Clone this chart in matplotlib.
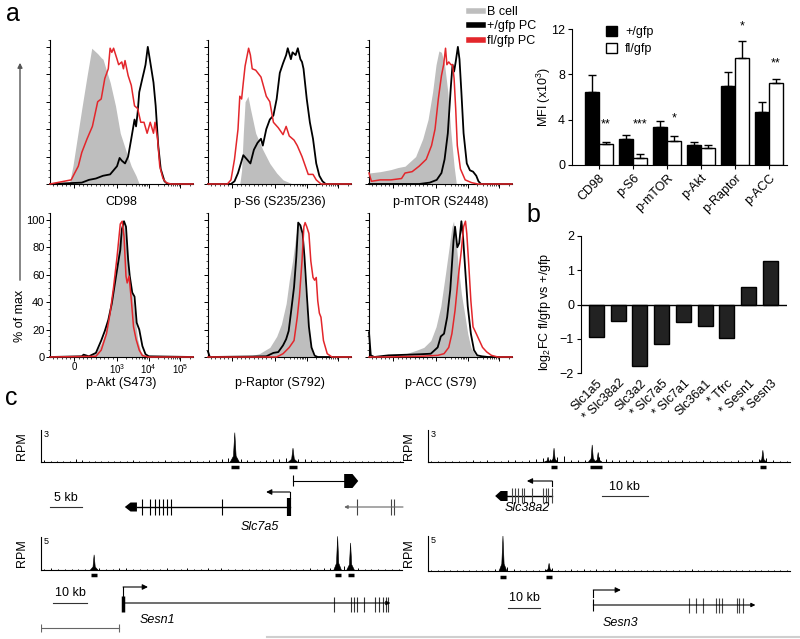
import matplotlib.pyplot as plt
import numpy as np
from matplotlib.lines import Line2D
from matplotlib.patches import Patch, FancyArrowPatch
from matplotlib.ticker import FixedLocator, MultipleLocator, NullFormatter

plt.rcParams['font.family'] = ['Liberation Sans', 'DejaVu Sans']
plt.rcParams['mathtext.fontset'] = 'custom'
plt.rcParams['mathtext.rm'] = 'Liberation Sans'
plt.rcParams['mathtext.it'] = 'Liberation Sans:italic'
plt.rcParams['font.size'] = 8.5

# ---------------- panel a: flow histograms (intensity, % of max) ----------------
cd98_b_x = [-575, -120, -35, 50, 175, 300, 410, 550, 635, 675, 845, 970, 1290, 2030, 2860, 4040, 5100, 250000]
cd98_b_y = [0, 0, 13, 30, 55, 79, 99, 95, 92, 91, 74, 57, 37, 23, 13, 6, 0, 0]
cd98_wt_x = [-575, 175, 343, 508, 675, 843, 1020, 1229, 1440, 1820, 2280, 2860, 3620, 4040, 4535, 5100, 6394,
             7190, 8030, 9460, 11300, 14300, 16740, 20160, 24100, 31700, 40000, 250000]
cd98_wt_y = [0, 1, 3, 4, 6, 7, 13, 19, 17, 15, 20, 33, 47, 42, 52, 67, 77, 82, 87, 100, 89, 74, 57, 28, 11, 2, 0, 0]
cd98_fl_x = [-575, -75, 8, 93, 175, 300, 425, 550, 633, 718, 800, 843, 883, 925, 1020, 1147, 1440, 1618, 1820,
             2280, 2860, 3620, 4535, 5690, 7190, 9015, 11300, 14300, 15950, 19200, 22500, 28400, 35640, 50260, 250000]
cd98_fl_y = [0, 3, 8, 13, 23, 33, 42, 60, 62, 77, 84, 99, 96, 99, 91, 87, 89, 84, 90, 79, 72, 57, 55, 45, 45,
             37, 45, 37, 45, 33, 13, 4, 1, 0, 0]

ps6_b_x = [-575, 175, 218, 258, 300, 368, 425, 550, 718, 883, 1147, 1820, 3620, 250000]
ps6_b_y = [0, 0, 10, 37, 60, 64, 55, 37, 25, 15, 8, 3, 0, 0]
ps6_wt_x = [-575, -33, 50, 133, 258, 343, 425, 508, 593, 675, 718, 800, 883, 968, 1147, 1440, 1820, 2280, 2560,
            3217, 3620, 4535, 5310, 6394, 7190, 8030, 10140, 12710, 15950, 20160, 25280, 31700, 40000, 250000]
ps6_wt_y = [0, 0, 2, 8, 21, 18, 15, 25, 30, 33, 28, 40, 47, 50, 62, 81, 88, 94, 99, 91, 96, 94, 99, 91, 89, 84,
            62, 45, 33, 15, 6, 2, 0, 0]
ps6_fl_x = [-575, -118, -33, 50, 133, 175, 218, 258, 300, 383, 425, 468, 550, 675, 800, 883, 968, 1290, 1820,
            2280, 2860, 4040, 5100, 7190, 11300, 15950, 20160, 28400, 250000]
ps6_fl_y = [0, 0, 3, 18, 40, 64, 62, 74, 86, 99, 94, 84, 83, 78, 64, 60, 45, 41, 36, 42, 35, 32, 28, 20, 7, 7,
            3, 0, 0]

pmtor_b_x = [-575, -308, -58, 108, 275, 525, 693, 818, 925, 1020, 1255, 1510, 1895, 2395, 3003, 3770, 4440, 250000]
pmtor_b_y = [8, 9, 10.5, 12, 13, 20, 33, 47, 67, 87, 97, 96, 87, 67, 37, 13, 0, 0]
pmtor_wt_x = [-575, 608, 858, 1071, 1510, 1895, 2395, 3003, 3370, 3770, 4234, 4960, 5573, 6394, 7500, 9460,
              11870, 14880, 18800, 22030, 26400, 250000]
pmtor_wt_y = [0, 0, 1, 3, 8, 18, 37, 72, 87, 82, 89, 100, 91, 67, 37, 15, 10, 9, 6, 2, 0, 0]
pmtor_fl_x = [-575, -518, -308, -58, 193, 275, 443, 608, 775, 900, 983, 1204, 1510, 1770, 2030, 2235, 2560,
              3003, 3370, 3770, 4234, 4760, 5970, 8417, 13330, 21020, 250000]
pmtor_fl_y = [8, 2, 3, 3, 4, 8, 9, 13, 18, 28, 40, 62, 79, 87, 99, 87, 89, 87, 87, 77, 55, 28, 11, 3, 1, 0, 0]

pakt_b_x = [-575, 343, 508, 633, 718, 800, 883, 968, 1147, 1440, 1618, 1820, 2280, 2860, 3620, 4535, 5690, 8030, 250000]
pakt_b_y = [0, 0, 3, 10, 17, 30, 42, 59, 83, 97, 99, 90, 66, 51, 32, 13, 4, 0, 0]
pakt_wt_x = [-575, 175, 218, 343, 508, 633, 718, 800, 883, 968, 1147, 1290, 1440, 1690, 1950, 2280, 2560,
             3070, 3620, 4234, 5100, 6394, 8030, 10140, 250000]
pakt_wt_y = [0, 0.5, 1.7, 0.5, 3, 12, 19, 27, 39, 56, 71, 78, 93, 99, 95, 71, 59, 47, 44, 25, 20, 8, 2, 0.5, 0]
pakt_fl_x = [-575, 508, 633, 758, 843, 925, 1020, 1290, 1480, 1690, 1950, 2130, 2444, 2860, 3370, 4040, 5100,
             6394, 10140, 250000]
pakt_fl_y = [0, 0.5, 5, 17, 32, 51, 73, 97, 99, 88, 59, 54, 59, 42, 22, 13, 5, 1, 0, 0]

praptor_b_x = [-575, 383, 633, 883, 1147, 1618, 2280, 2860, 3620, 4535, 5460, 6394, 7500, 9015, 10860,
               12710, 15950, 20160, 250000]
praptor_b_y = [0, 0.5, 2.4, 7, 15, 24, 39, 56, 70, 87, 98, 95, 78, 48, 24, 10, 1, 0, 0]
praptor_wt_x = [-575, -533, 800, 968, 1290, 1820, 2280, 2740, 3217, 4040, 4760, 5460, 6394, 7500, 8600,
                10140, 11870, 14300, 17930, 22500, 250000]
praptor_wt_y = [4, 0, 0.5, 3, 3.6, 8.5, 13, 19, 32, 51, 73, 98, 96, 90, 73, 46, 22, 7, 1, 0, 0]
praptor_fl_x = [-575, 1147, 1820, 2860, 4040, 5100, 5970, 7190, 8240, 9015, 10140, 11870, 13620, 15950, 17930,
                20160, 22500, 25280, 28400, 33990, 44700, 63000, 250000]
praptor_fl_y = [0, 0, 2.4, 7, 12, 29, 44, 70, 95, 98, 95, 90, 70, 58, 56, 58, 41, 32, 29, 12, 2.4, 0, 0]

pacc_b_x = [-575, -33, 300, 550, 718, 883, 1020, 1440, 2030, 2560, 3217, 3620, 4330, 5100, 6394, 8030, 10140,
            12710, 17930, 28400, 250000]
pacc_b_y = [0, 1.2, 2.4, 5, 7, 12, 22, 37, 61, 78, 95, 99, 85, 66, 46, 32, 17, 7, 1, 0, 0]
pacc_wt_x = [-575, -533, -450, -118, 633, 883, 1147, 1440, 1820, 2280, 2860, 3620, 4040, 4760, 5460, 6394, 7190,
             8600, 10140, 12710, 15950, 20160, 28400, 44700, 250000]
pacc_wt_y = [18, 1.2, 0, 1.2, 2, 2.4, 7, 15, 17, 29, 49, 85, 95, 80, 83, 99, 88, 61, 37, 17, 5, 1.2, 0.5, 0, 0]
pacc_fl_x = [-575, -200, 633, 1147, 1820, 2560, 3217, 4040, 5100, 6394, 7500, 8600, 9460, 10860, 12710, 14880,
             18800, 23600, 29600, 40000, 56400, 89000, 250000]
pacc_fl_y = [0, 0, 0.5, 1.2, 2.4, 7, 17, 34, 58, 78, 95, 99, 90, 68, 41, 22, 17, 12, 7, 3.7, 1.2, 0, 0]

hist_panels = [
    ('CD98', cd98_b_x, cd98_b_y, cd98_wt_x, cd98_wt_y, cd98_fl_x, cd98_fl_y),
    ('p-S6 (S235/236)', ps6_b_x, ps6_b_y, ps6_wt_x, ps6_wt_y, ps6_fl_x, ps6_fl_y),
    ('p-mTOR (S2448)', pmtor_b_x, pmtor_b_y, pmtor_wt_x, pmtor_wt_y, pmtor_fl_x, pmtor_fl_y),
    ('p-Akt (S473)', pakt_b_x, pakt_b_y, pakt_wt_x, pakt_wt_y, pakt_fl_x, pakt_fl_y),
    ('p-Raptor (S792)', praptor_b_x, praptor_b_y, praptor_wt_x, praptor_wt_y, praptor_fl_x, praptor_fl_y),
    ('p-ACC (S79)', pacc_b_x, pacc_b_y, pacc_wt_x, pacc_wt_y, pacc_fl_x, pacc_fl_y),
]
hist_legend = ['B cell', '+/gfp PC', 'fl/gfp PC']

# ---------------- panel a: MFI bar chart ----------------
mfi_markers = ['CD98', 'p-S6', 'p-mTOR', 'p-Akt', 'p-Raptor', 'p-ACC']
mfi_wt = [6.4, 2.27, 3.38, 1.8, 6.97, 4.65]
mfi_wt_err = [1.5, 0.38, 0.53, 0.2, 1.27, 0.94]
mfi_fl = [1.83, 0.59, 2.12, 1.53, 9.47, 7.27]
mfi_fl_err = [0.2, 0.35, 0.48, 0.24, 1.5, 0.35]
mfi_stars = ['**', '***', '*', '', '*', '**']
mfi_star_y = [3.6, 3.6, 4.1, 0, 12.2, 9.0]

# ---------------- panel b: log2 fold change ----------------
fc_genes = ['Slc1a5', '* Slc38a2', 'Slc3a2', '* Slc7a5', '* Slc7a1', 'Slc36a1', '* Tfrc', '* Sesn1', '* Sesn3']
fc_values = [-0.95, -0.48, -1.8, -1.16, -0.51, -0.63, -0.99, 0.52, 1.28]

# ---------------- panel c: ChIP-seq tracks (kb, RPM) ----------------
slc7a5_span = 56.6
slc7a5_bg = [0.16, 0.10, 0.13, 0.08, 0.14, 0.26, 0.19, 0.10, 0.13, 0.08,
             0.11, 0.14, 0.10, 0.13, 0.16, 0.08, 0.11, 0.14, 0.10, 0.18,
             0.11, 0.08, 0.13, 0.16, 0.10, 0.14, 0.19, 0.16, 0.24, 0.35,
             0.45, 0.29, 0.16, 0.19, 0.14, 0.22, 0.26, 0.32, 0.38, 0.45,
             0.32, 0.29, 0.19, 0.14, 0.11, 0.16, 0.10, 0.13, 0.08, 0.14,
             0.11, 0.10, 0.13, 0.08, 0.11, 0.10, 0.13]
slc7a5_peaks = [30.3, 39.4]
slc7a5_heights = [2.75, 1.3]
slc7a5_regions = [(29.7, 30.9), (38.8, 40.0)]

sesn1_span = 106.0
sesn1_bg = [0.16, 0.24, 0.13, 0.19, 0.16, 0.22, 0.14, 0.19, 0.29, 0.16,
            0.19, 0.32, 0.24, 0.16, 0.19, 0.13, 0.22, 0.16, 0.32, 0.19,
            0.16, 0.26, 0.14, 0.19, 0.24, 0.16, 0.35, 0.22, 0.16, 0.19,
            0.13, 0.16, 0.10, 0.19, 0.16, 0.14, 0.22, 0.19, 0.16, 0.24,
            0.19, 0.29, 0.35, 0.48, 0.56, 0.40, 0.24, 0.19, 0.16, 0.22,
            0.16, 0.19, 0.13]
sesn1_peaks = [15.6, 87.1, 90.9]
sesn1_heights = [2.3, 5.1, 4.1]
sesn1_regions = [(14.7, 16.5), (86.2, 88.0), (90.0, 91.8)]

slc38a2_span = 78.7
slc38a2_bg = [0.10, 0.13, 0.08, 0.14, 0.11, 0.10, 0.16, 0.13, 0.19, 0.11,
              0.14, 0.22, 0.16, 0.13, 0.19, 0.26, 0.35, 0.32, 0.48, 0.56,
              0.19, 0.16, 0.22, 0.72, 0.48, 0.29, 0.19, 0.16, 0.22, 0.16,
              0.13, 0.19, 0.14, 0.11, 0.16, 0.13, 0.19, 0.14, 0.11, 0.16,
              0.13, 0.10, 0.14, 0.11, 0.16, 0.13, 0.19, 0.32, 0.40, 0.16,
              0.11, 0.13]
slc38a2_peaks = [26.1, 27.4, 35.7, 37.0, 72.8]
slc38a2_heights = [0.45, 1.3, 1.6, 0.9, 1.1]
slc38a2_regions = [(26.8, 28.0), (35.2, 37.8), (72.2, 73.4)]

sesn3_span = 113.0
sesn3_bg = [0.13, 0.16, 0.10, 0.19, 0.13, 0.16, 0.11, 0.14, 0.19, 0.16,
            0.32, 0.40, 0.64, 0.32, 0.16, 0.13, 0.19, 0.16, 0.24, 0.40,
            0.19, 0.16, 0.22, 0.19, 0.29, 0.16, 0.24, 0.19, 0.16, 0.22,
            0.19, 0.16, 0.13, 0.19, 0.16, 0.14, 0.19, 0.16, 0.13, 0.18,
            0.16, 0.22, 0.14, 0.19, 0.16, 0.13, 0.19, 0.16, 0.14, 0.18,
            0.13, 0.16, 0.19, 0.14, 0.16, 0.13, 0.16]
sesn3_peaks = [23.4, 37.8]
sesn3_heights = [5.0, 1.1]
sesn3_regions = [(22.4, 24.4), (36.9, 38.7)]

# gene models (kb)
slc7a5_exons = [15.8, 17.0, 17.8, 18.4, 19.1, 19.7, 20.3, 28.3]
sesn1_exons = [85.9, 90.9, 91.8, 92.9, 94.7, 98.2, 99.1, 100.3, 101.2, 101.8]
slc38a2_exons = [18.3, 18.9, 19.6, 20.4, 20.9, 22.6, 25.0, 25.7, 26.1, 27.0]
sesn3_exons = [81.6, 83.8, 85.9, 90.0, 90.9, 91.9, 96.3, 97.2, 98.4]

W, H = 800, 639
fig = plt.figure(figsize=(8, 6.39), dpi=100)


def px_axes(left, top, width, height):
    return fig.add_axes([left / W, 1 - (top + height) / H, width / W, height / H])


RED = '#e3262b'
GRAY = '#bebebe'

# histograms
for i, (name, bx, by, wx, wy, fx, fy) in enumerate(hist_panels):
    row, col = divmod(i, 3)
    ax = px_axes([50, 208, 369][col], [40, 213][row], 143, 144)
    ax.fill_between(bx, by, color=GRAY, lw=0)
    ax.plot(wx, wy, color='k', lw=1.3, clip_on=False, zorder=3)
    ax.plot(fx, fy, color=RED, lw=1.1, clip_on=False, zorder=4)
    ax.set_xscale('symlog', linthresh=1000, linscale=1.2)
    ax.set_xlim(-575, 2.5e5)
    ax.set_ylim(0, 105)
    ax.xaxis.set_major_locator(FixedLocator([0, 1e3, 1e4, 1e5]))
    minors = [-500, -400, -300, -200, -100, 100, 200, 300, 400, 500, 600, 700, 800, 900]
    minors += [k * 10 ** e for e in (3, 4) for k in range(2, 10)] + [2e5]
    ax.xaxis.set_minor_locator(FixedLocator(minors))
    ax.yaxis.set_major_locator(MultipleLocator(20))
    ax.yaxis.set_minor_locator(MultipleLocator(5))
    for s in ('top', 'right'):
        ax.spines[s].set_visible(False)
    for s in ('left', 'bottom'):
        ax.spines[s].set_linewidth(0.8)
    ax.tick_params(which='major', length=3, width=0.7, labelsize=8, pad=1)
    ax.tick_params(which='minor', length=1.5, width=0.5)
    if i == 3:
        ax.set_xticklabels(['0', '$10^{3}$', '$10^{4}$', '$10^{5}$'], fontsize=7)
        ax.tick_params(axis='x', pad=0.5)
        ax.xaxis.set_minor_formatter(NullFormatter())
    else:
        ax.xaxis.set_major_formatter(NullFormatter())
        ax.xaxis.set_minor_formatter(NullFormatter())
        ax.yaxis.set_major_formatter(NullFormatter())
    ax.text(0.5, [-0.125, -0.18][row], name, transform=ax.transAxes, ha='center', va='center', fontsize=9)

fig.legend(handles=[Line2D([], [], color=GRAY, lw=4), Line2D([], [], color='k', lw=4),
                    Line2D([], [], color=RED, lw=4)],
           labels=hist_legend, loc='upper left', bbox_to_anchor=(469 / W, 1 - 6 / H),
           frameon=False, handlelength=1.1, handletextpad=0.3, labelspacing=0.2,
           borderpad=0, borderaxespad=0, fontsize=9)

fig.add_artist(FancyArrowPatch((20 / W, 1 - 283 / H), (20 / W, 1 - 60 / H), transform=fig.transFigure,
                               arrowstyle='-|>', mutation_scale=7, color='#555555', lw=1))
fig.text(20 / W, 1 - 316 / H, '% of max', rotation=90, ha='center', va='center', fontsize=9)

# MFI bar chart
ax = px_axes(572, 29, 215, 136)
pos = np.arange(len(mfi_markers))
bw = 0.41
ax.bar(pos - bw / 2, mfi_wt, bw, color='k', edgecolor='k', lw=1, label='+/gfp')
ax.bar(pos + bw / 2, mfi_fl, bw, color='white', edgecolor='k', lw=1, label='fl/gfp')
ax.errorbar(pos - bw / 2, mfi_wt, yerr=[np.zeros(len(pos)), mfi_wt_err], fmt='none', ecolor='k',
            elinewidth=1, capsize=3, capthick=1)
ax.errorbar(pos + bw / 2, mfi_fl, yerr=[np.zeros(len(pos)), mfi_fl_err], fmt='none', ecolor='k',
            elinewidth=1, capsize=3, capthick=1)
for p, s, y in zip(pos, mfi_stars, mfi_star_y):
    if s:
        ax.text(p + bw / 2, y, s, ha='center', va='center', fontsize=9)
ax.set_xlim(-0.79, 5.53)
ax.set_ylim(0, 12)
ax.set_yticks([0, 4, 8, 12])
ax.set_xticks(pos)
ax.set_xticklabels(mfi_markers, rotation=45, ha='right', rotation_mode='anchor', fontsize=9)
ax.set_ylabel('MFI (x10$^{3}$)', fontsize=9)
ax.yaxis.set_label_coords(-0.088, 0.5)
for s in ('top', 'right'):
    ax.spines[s].set_visible(False)
ax.tick_params(length=3, width=0.8, labelsize=9, pad=2)
ax.legend(handles=[Patch(fc='k', ec='k'), Patch(fc='white', ec='k')], labels=['+/gfp', 'fl/gfp'],
          loc='upper left', bbox_to_anchor=(0.13, 1.07), frameon=False, handlelength=0.9,
          handleheight=0.9, handletextpad=0.6, labelspacing=0.35, borderpad=0, fontsize=9)

# panel b
ax = px_axes(581, 236, 206, 137)
gpos = np.arange(len(fc_genes))
ax.bar(gpos, fc_values, 0.69, color='#222222', edgecolor='k', lw=1)
ax.axhline(0, color='k', lw=1)
ax.set_xlim(-0.71, 8.76)
ax.set_ylim(-2, 2)
ax.set_yticks([-2, -1, 0, 1, 2])
ax.set_xticks(gpos)
ax.set_xticklabels(fc_genes, rotation=45, ha='right', rotation_mode='anchor', fontsize=9)
for s in ('top', 'right', 'bottom'):
    ax.spines[s].set_visible(False)
ax.tick_params(axis='y', length=3, width=0.8, labelsize=9, pad=2)
ax.tick_params(axis='x', length=0, pad=3)
ax.set_ylabel('log$_{2}$FC fl/gfp vs +/gfp', fontsize=9)
ax.yaxis.set_label_coords(-0.136, 0.45)


# panel c
def signal_track(left, top, width, height, span, scale, bg, peaks, heights, regions, half_w):
    ax = px_axes(left, top, width, height)
    n = len(bg)
    bx = (np.arange(n) + 0.5) * span / n
    ax.vlines(bx, 0, bg, color='k', lw=0.7, clip_on=False)
    for c, h in zip(peaks, heights):
        ax.fill([c - half_w, c - 0.3 * half_w, c, c + 0.3 * half_w, c + half_w],
                [0, 0.2 * h, h, 0.2 * h, 0], color='k', lw=0.4, clip_on=False)
    ax.plot([0, span], [0, 0], color='k', lw=0.8, clip_on=False)
    for a, b in regions:
        ax.plot([a, b], [-0.16 * scale, -0.16 * scale], color='k', lw=2.5, solid_capstyle='butt',
                clip_on=False)
    ax.set_xlim(0, span)
    ax.set_ylim(0, scale)
    for s in ('top', 'right', 'bottom'):
        ax.spines[s].set_visible(False)
    ax.spines['left'].set_linewidth(0.8)
    ax.set_xticks([])
    ax.set_yticks([])
    ax.text(0.006, 1.0, str(scale), transform=ax.transAxes, ha='left', va='top', fontsize=6.5)
    ax.set_ylabel('RPM', fontsize=9)
    ax.yaxis.set_label_coords(-13 / width, 0.5)
    return ax


def gene_axes(left, top, width, height, span):
    ax = px_axes(left, top, width, height)
    ax.set_xlim(0, span)
    ax.set_ylim(height, 0)
    ax.axis('off')
    return ax


def block(ax, x0, x1, y, half, tip, to_left):
    if to_left:
        xs = [x0, x0 + tip, x1, x1, x0 + tip]
        ys = [y, y - half, y - half, y + half, y + half]
    else:
        xs = [x0, x1 - tip, x1, x1 - tip, x0]
        ys = [y - half, y - half, y, y + half, y + half]
    ax.fill(xs, ys, color='k', lw=0, clip_on=False)


def arrow(ax, x0, x1, y, color='k', scale=8, lw=0.8):
    ax.annotate('', xy=(x1, y), xytext=(x0, y),
                arrowprops=dict(arrowstyle='-|>', color=color, lw=lw, mutation_scale=scale,
                                shrinkA=0, shrinkB=0))


def scale_bar(ax, x0, length, y, ty):
    ax.plot([x0, x0 + length], [y, y], color='#333333', lw=0.8)
    ax.text(x0 + length / 2, ty, '%d kb' % length, ha='center', va='center', fontsize=9)


# Slc7a5
signal_track(41, 430, 362, 32, slc7a5_span, 3, slc7a5_bg, slc7a5_peaks, slc7a5_heights,
             slc7a5_regions, 0.7)
g = gene_axes(41, 470, 362, 65, slc7a5_span)
g.plot([15.0, 38.9], [37, 37], color='k', lw=1)
g.vlines(slc7a5_exons, 29, 45, color='k', lw=0.8)
g.vlines([38.75], 28, 46, color='k', lw=3)
block(g, 13.1, 15.0, 37, 4.5, 0.9, True)
g.plot([38.9, 38.9], [28, 22], color='k', lw=0.8)
arrow(g, 38.9, 35.2, 22)
g.plot([39.4, 47.6], [11, 11], color='k', lw=0.8)
g.vlines([39.4], 5, 16, color='k', lw=0.8)
block(g, 47.4, 49.6, 11, 7, 0.9, False)
arrow(g, slc7a5_span, 47.4, 37, color='#666666', scale=5)
g.vlines([49.4, 54.8, 55.2], 29, 45, color='#444444', lw=0.8)
scale_bar(g, 1.4, 5, 37, 28)
g.text(34.2, 57, 'Slc7a5', style='italic', ha='center', va='center', fontsize=9)

# Sesn1
signal_track(41, 537, 361, 33, sesn1_span, 5, sesn1_bg, sesn1_peaks, sesn1_heights,
             sesn1_regions, 1.1)
g = gene_axes(41, 578, 361, 60, sesn1_span)
arrow(g, 24.1, 102.6, 25, scale=6)
g.vlines([24.1], 18, 34, color='k', lw=2.5)
g.vlines(sesn1_exons, 19, 34, color='#333333', lw=0.8)
g.plot([24.1, 24.1], [19, 9], color='k', lw=0.8)
arrow(g, 24.1, 31.4, 9)
scale_bar(g, 3.5, 10, 25, 15)
g.text(34.1, 42, 'Sesn1', style='italic', ha='center', va='center', fontsize=9)
g.plot([0, 22.9], [50, 50], color='#666666', lw=0.8)
g.vlines([0, 22.9], 46, 54, color='#666666', lw=0.8)

# Slc38a2
signal_track(428, 430, 362, 32, slc38a2_span, 3, slc38a2_bg, slc38a2_peaks, slc38a2_heights,
             slc38a2_regions, 0.8)
g = gene_axes(428, 470, 362, 65, slc38a2_span)
g.plot([17.0, 27.0], [26, 26], color='k', lw=1)
block(g, 14.6, 17.3, 26, 5, 1.2, True)
g.vlines(slc38a2_exons, 18, 33, color='#444444', lw=0.8)
g.plot([27.0, 27.0], [16, 11], color='k', lw=0.8)
arrow(g, 27.0, 21.5, 11)
scale_bar(g, 37.8, 10, 26, 17)
g.text(21.7, 38, 'Slc38a2', style='italic', ha='center', va='center', fontsize=9)

# Sesn3
signal_track(428, 536, 362, 35, sesn3_span, 5, sesn3_bg, sesn3_peaks, sesn3_heights,
             sesn3_regions, 1.2)
g = gene_axes(428, 578, 362, 60, sesn3_span)
arrow(g, 51.6, 102.2, 27, scale=6)
g.vlines([51.6], 21, 33, color='k', lw=0.8)
g.vlines(sesn3_exons, 20, 35, color='#444444', lw=0.8)
g.plot([51.6, 51.6], [19, 12], color='k', lw=0.8)
arrow(g, 51.6, 60.2, 12)
scale_bar(g, 25, 10, 30, 20)
g.text(60, 45, 'Sesn3', style='italic', ha='center', va='center', fontsize=9)

fig.add_artist(Line2D([267 / W, 1], [1 - 637 / H, 1 - 637 / H], color='#cfcfcf', lw=1.5))

fig.text(13 / W, 1 - 14 / H, 'a', fontsize=18, ha='center', va='center')
fig.text(533 / W, 1 - 215 / H, 'b', fontsize=18, ha='center', va='center')
fig.text(11 / W, 1 - 398 / H, 'c', fontsize=18, ha='center', va='center')

fig.savefig('out.png', dpi=100)
